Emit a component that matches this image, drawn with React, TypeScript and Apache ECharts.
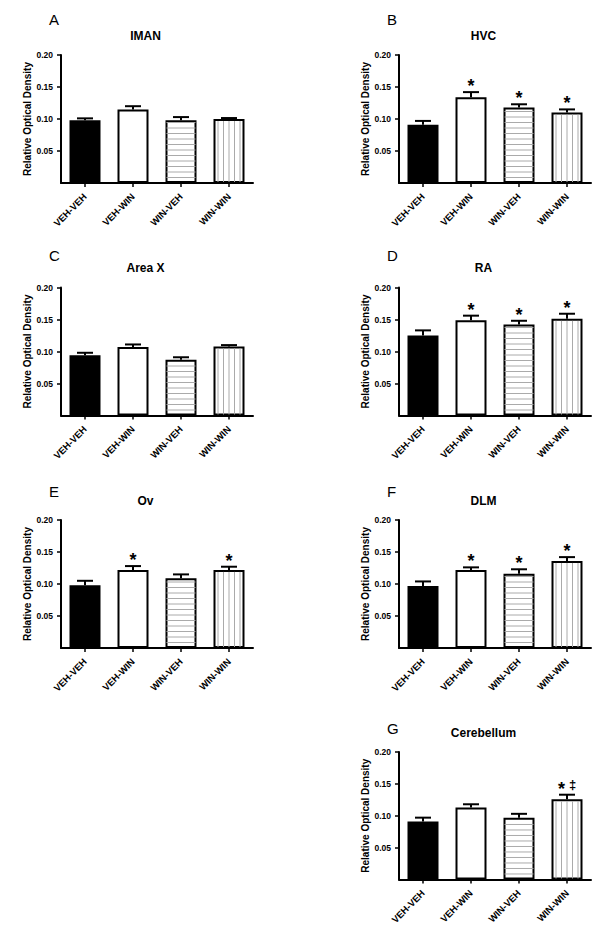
import React, { useEffect, useRef } from "react";
import * as echarts from "echarts";

// ---------------- data ----------------
const categories = ["VEH-VEH", "VEH-WIN", "WIN-VEH", "WIN-WIN"];
const panelLetters = ["A", "B", "C", "D", "E", "F", "G"];
const regionNames = ["IMAN", "HVC", "Area X", "RA", "Ov", "DLM", "Cerebellum"];
const yAxisTitle = "Relative Optical Density";
const yTickValues = [0.05, 0.1, 0.15, 0.2];

const imanMean = [0.098, 0.115, 0.098, 0.1];
const imanSem = [0.003, 0.005, 0.005, 0.0015];
const imanMarks = ["", "", "", ""];

const hvcMean = [0.091, 0.134, 0.118, 0.11];
const hvcSem = [0.006, 0.008, 0.005, 0.005];
const hvcMarks = ["", "*", "*", "*"];

const areaXMean = [0.094, 0.107, 0.087, 0.108];
const areaXSem = [0.004, 0.004, 0.004, 0.002];
const areaXMarks = ["", "", "", ""];

const raMean = [0.125, 0.149, 0.142, 0.151];
const raSem = [0.008, 0.007, 0.006, 0.008];
const raMarks = ["", "*", "*", "*"];

const ovMean = [0.098, 0.122, 0.109, 0.122];
const ovSem = [0.007, 0.006, 0.006, 0.005];
const ovMarks = ["", "*", "", "*"];

const dlmMean = [0.097, 0.122, 0.116, 0.136];
const dlmSem = [0.007, 0.004, 0.007, 0.006];
const dlmMarks = ["", "*", "*", "*"];

const cerebMean = [0.091, 0.113, 0.097, 0.126];
const cerebSem = [0.006, 0.005, 0.006, 0.007];
const cerebMarks = ["", "", "", "*‡"];

const panels = [
  { mean: imanMean, sem: imanSem, marks: imanMarks },
  { mean: hvcMean, sem: hvcSem, marks: hvcMarks },
  { mean: areaXMean, sem: areaXSem, marks: areaXMarks },
  { mean: raMean, sem: raSem, marks: raMarks },
  { mean: ovMean, sem: ovSem, marks: ovMarks },
  { mean: dlmMean, sem: dlmSem, marks: dlmMarks },
  { mean: cerebMean, sem: cerebSem, marks: cerebMarks },
];

// ---------------- layout / style ----------------
const FONT = '"Liberation Sans", Arial, sans-serif';
const COLS = [61, 399];
const ROWS = [55, 287.5, 520, 752];
const GRID_W = 192;
const GRID_H = 128;
const PANEL_POS = [
  [0, 0],
  [1, 0],
  [0, 1],
  [1, 1],
  [0, 2],
  [1, 2],
  [1, 3],
];
const LETTER_OFFSET = [35.5, 35.5, 32, 32, 29, 29, 24];
const BAR_W = 31;
const OUTER_HALF = 16.5;
const STEP = 5.5;
const FILLS = ["#000", "#fff", "#fff", "#fff"];
const PATTERNS = ["", "", "h", "v"];

function buildOption() {
  const grid: any[] = [];
  const xAxis: any[] = [];
  const yAxis: any[] = [];
  const series: any[] = [];
  const elements: any[] = [];

  panels.forEach((p, k) => {
    const [c, r] = PANEL_POS[k];
    const left = COLS[c];
    const top = ROWS[r];
    grid.push({ left, top, width: GRID_W, height: GRID_H, containLabel: false });
    xAxis.push({
      type: "category",
      gridIndex: k,
      data: categories,
      boundaryGap: true,
      axisLine: { show: true, lineStyle: { color: "#000", width: 2 } },
      axisTick: { show: true, alignWithLabel: true, length: 4, lineStyle: { color: "#000", width: 1.5 } },
      axisLabel: {
        interval: 0,
        rotate: 45,
        fontSize: 9.5,
        fontWeight: "bold",
        color: "#000",
        fontFamily: FONT,
        margin: 12,
      },
      splitLine: { show: false },
    });
    yAxis.push({
      type: "value",
      gridIndex: k,
      min: 0,
      max: 0.2,
      interval: 0.05,
      name: yAxisTitle,
      nameLocation: "middle",
      nameGap: 27,
      nameTextStyle: { fontSize: 10, fontWeight: "bold", color: "#000", fontFamily: FONT },
      axisLine: { show: true, lineStyle: { color: "#000", width: 2 } },
      axisTick: { show: true, length: 4, customValues: yTickValues, lineStyle: { color: "#000", width: 1.5 } },
      axisLabel: {
        customValues: yTickValues,
        formatter: (v: number) => v.toFixed(2),
        fontSize: 8.5,
        fontWeight: "bold",
        color: "#000",
        fontFamily: FONT,
        margin: 8,
      },
      splitLine: { show: false },
    });
    series.push({
      type: "bar",
      xAxisIndex: k,
      yAxisIndex: k,
      barWidth: BAR_W,
      z: 2,
      data: p.mean.map((v, i) => ({
        value: v,
        itemStyle: { color: FILLS[i], borderColor: "#000", borderWidth: 2 },
      })),
    });
    series.push({
      type: "custom",
      xAxisIndex: k,
      yAxisIndex: k,
      z: 5,
      data: p.mean.map((v, i) => [i, v, p.sem[i]]),
      renderItem: (params: any, api: any) => {
        const i = api.value(0);
        const m = api.value(1);
        const e = api.value(2);
        const [cx, yTop] = api.coord([i, m]);
        const yBase = api.coord([i, 0])[1];
        const yErr = api.coord([i, m + e])[1];
        const children: any[] = [];
        const pat = PATTERNS[i];
        if (pat === "h") {
          for (let y = yBase - STEP; y > yTop + 2; y -= STEP) {
            children.push({
              type: "line",
              shape: { x1: cx - OUTER_HALF + 2, y1: y, x2: cx + OUTER_HALF - 2, y2: y },
              style: { stroke: "#aaa", lineWidth: 1 },
            });
          }
        } else if (pat === "v") {
          for (let x = cx - OUTER_HALF + STEP; x < cx + OUTER_HALF - 2; x += STEP) {
            children.push({
              type: "line",
              shape: { x1: x, y1: yTop + 2, x2: x, y2: yBase - 1 },
              style: { stroke: "#aaa", lineWidth: 1 },
            });
          }
        }
        children.push({
          type: "line",
          shape: { x1: cx, y1: yTop, x2: cx, y2: yErr },
          style: { stroke: "#000", lineWidth: 2 },
        });
        children.push({
          type: "line",
          shape: { x1: cx - 8, y1: yErr, x2: cx + 8, y2: yErr },
          style: { stroke: "#000", lineWidth: 2 },
        });
        const chars = Array.from(p.marks[i] || "");
        chars.forEach((ch, j) => {
          const isStar = ch === "*";
          children.push({
            type: "text",
            x: cx + (j - (chars.length - 1) / 2) * 11,
            y: isStar ? yErr - 6 : yErr - 10,
            style: {
              text: ch,
              font: isStar ? `bold 18px ${FONT}` : `bold 13px ${FONT}`,
              fill: "#000",
              align: "center",
              verticalAlign: "middle",
            },
          });
        });
        return { type: "group", children };
      },
    });

    elements.push({
      type: "text",
      x: left - 12,
      y: top - LETTER_OFFSET[k],
      style: {
        text: panelLetters[k],
        font: `15px ${FONT}`,
        fill: "#000",
        align: "left",
        verticalAlign: "middle",
      },
    });
    elements.push({
      type: "text",
      x: left + 84.5,
      y: top - 19.5,
      style: {
        text: regionNames[k],
        font: `bold 12px ${FONT}`,
        fill: "#000",
        align: "center",
        verticalAlign: "middle",
      },
    });
  });

  return {
    animation: false,
    backgroundColor: "#fff",
    grid,
    xAxis,
    yAxis,
    series,
    graphic: { elements },
  };
}

export default function App() {
  const ref = useRef<HTMLDivElement>(null);
  useEffect(() => {
    document.body.style.margin = "0";
    if (!ref.current) return;
    const chart = echarts.init(ref.current, null, { renderer: "svg" });
    chart.setOption(buildOption() as any);
    return () => chart.dispose();
  }, []);
  return <div ref={ref} style={{ width: 600, height: 927, background: "#fff" }} />;
}
